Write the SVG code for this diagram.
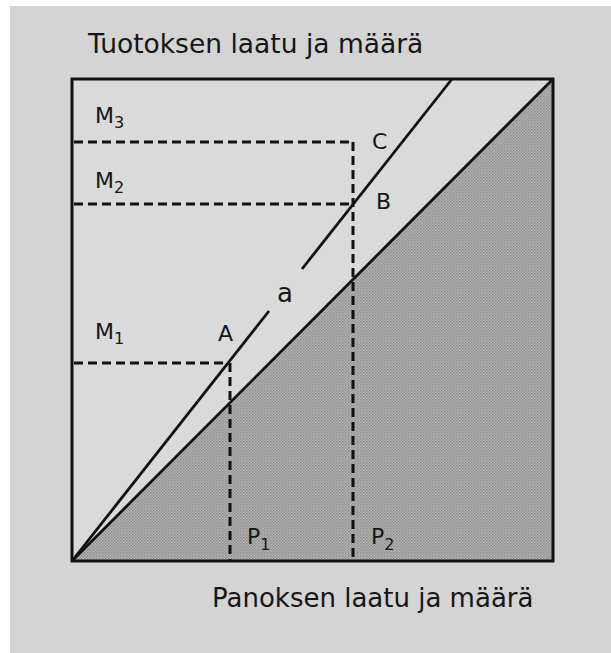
<svg xmlns="http://www.w3.org/2000/svg" width="611" height="653" viewBox="0 0 611 653">
<defs>
<pattern id="dots" width="3" height="3" patternUnits="userSpaceOnUse">
<rect width="3" height="3" fill="#b4b4b4"/>
<rect x="0" y="0" width="1.5" height="1.5" fill="#8c8c8c"/>
<rect x="1.5" y="1.5" width="1.5" height="1.5" fill="#989898"/>
</pattern>
</defs>
<style>
.t{font-family:"DejaVu Sans","Liberation Sans",sans-serif;fill:#161616}
.big{font-size:26.5px}
.lab{font-size:22px}
.sub{font-size:16px}
.solid{stroke:#111;stroke-width:2.8;fill:none}
.dash{stroke:#111;stroke-width:3;fill:none;stroke-dasharray:9 5}
</style>
<rect x="0" y="0" width="611" height="653" fill="#ffffff"/>
<rect x="10" y="6" width="601" height="647" fill="#d4d4d4"/>
<rect x="72" y="79" width="481" height="482" fill="#dadada"/>
<g id="shade">
<polygon points="72,561 553,79 553,561" fill="url(#dots)"/>
</g>
<g id="frame">
<rect x="72" y="79" width="481" height="482" fill="none" stroke="#111" stroke-width="3"/>
</g>
<g id="connectors">
<line class="solid" x1="72" y1="561" x2="553" y2="79"/>
<line class="solid" x1="72" y1="561" x2="269" y2="311"/>
<line class="solid" x1="302" y1="269" x2="452" y2="79"/>
<line class="dash" x1="74" y1="142" x2="353" y2="142"/>
<line class="dash" x1="353" y1="142" x2="353" y2="560"/>
<line class="dash" x1="74" y1="204" x2="353" y2="204"/>
<line class="dash" x1="74" y1="363" x2="230" y2="363"/>
<line class="dash" x1="230" y1="363" x2="230" y2="560"/>
</g>
<g id="title-y"><text class="t big" x="88" y="53">Tuotoksen laatu ja määrä</text></g>
<g id="title-x"><text class="t" style="font-size:26px" x="212" y="607">Panoksen laatu ja määrä</text></g>
<g id="M3"><text class="t lab" x="95" y="123">M<tspan class="sub" dy="5">3</tspan></text></g>
<g id="M2"><text class="t lab" x="95" y="188">M<tspan class="sub" dy="5">2</tspan></text></g>
<g id="M1"><text class="t lab" x="95" y="339">M<tspan class="sub" dy="5">1</tspan></text></g>
<g id="C"><text class="t lab" x="372" y="149">C</text></g>
<g id="B"><text class="t lab" x="376" y="209">B</text></g>
<g id="A"><text class="t lab" x="218" y="341">A</text></g>
<g id="a"><text class="t" style="font-size:26px" x="277" y="302">a</text></g>
<g id="P1"><text class="t lab" x="247" y="544">P<tspan class="sub" dy="6">1</tspan></text></g>
<g id="P2"><text class="t lab" x="371" y="544">P<tspan class="sub" dy="6">2</tspan></text></g>
</svg>
